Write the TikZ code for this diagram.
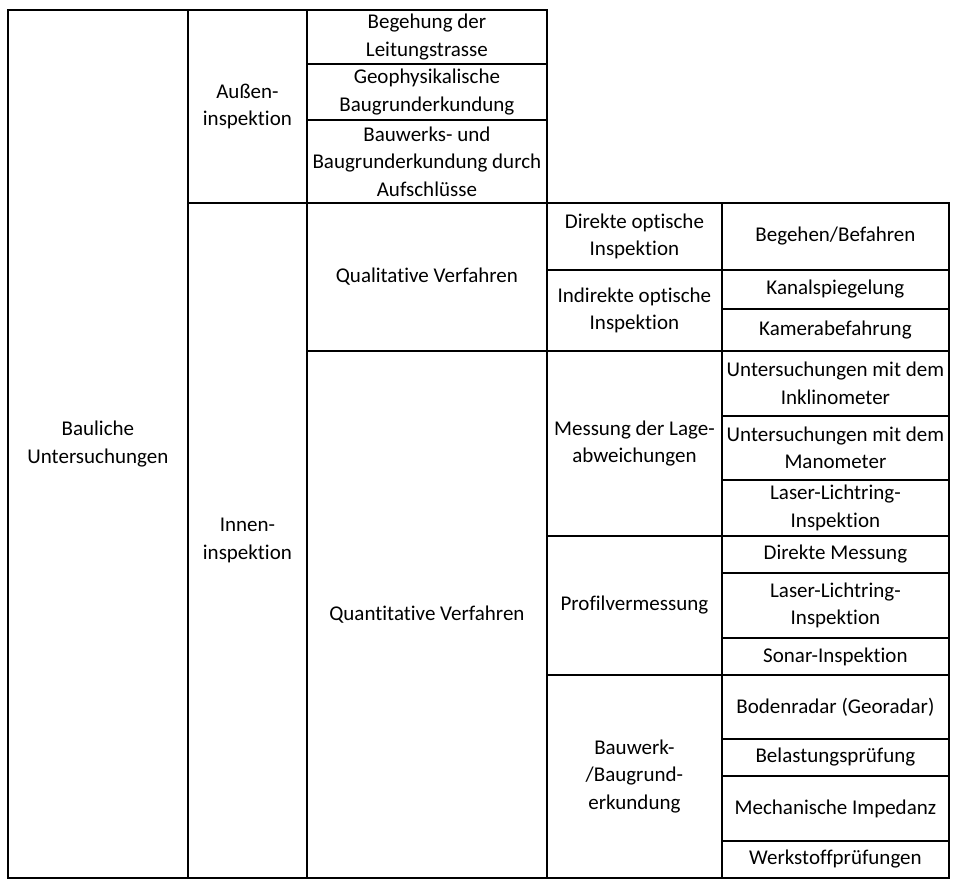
\documentclass[tikz,border=0pt]{standalone}
\usepackage{fontspec}
\setmainfont{Carlito}[Ligatures={NoCommon}]
\usepackage{tikz}
\usetikzlibrary{positioning}

\begin{document}
\begin{tikzpicture}[x=1pt, y=-1pt,
  cell/.style={draw, line width=1.8pt, inner sep=0pt, align=center, anchor=north west,
    font=\fontsize{21}{27.5}\selectfont}]
\useasboundingbox (0,0) rectangle (956,885);
% level 1 and 2
\node[cell, minimum width=180, minimum height=868] (bau) at (7,9) {Bauliche\\Untersuchungen};
\node[cell, minimum width=119, minimum height=193] (aussen) at (187,9) {Außen-\\inspektion};
\node[cell, minimum width=119, minimum height=675] (innen) at (187,202) {Innen-\\inspektion};
% Ausseninspektion
\node[cell, minimum width=240, minimum height=54] (begehung) at (306,9) {Begehung der\\Leitungstrasse};
\node[cell, minimum width=240, minimum height=56] (geophys) at (306,63) {Geophysikalische\\Baugrunderkundung};
\node[cell, minimum width=240, minimum height=83] (aufschl) at (306,119) {Bauwerks- und\\Baugrunderkundung durch\\Aufschlüsse};
% Inneninspektion
\node[cell, minimum width=240, minimum height=148] (qual) at (306,202) {Qualitative Verfahren};
\node[cell, minimum width=240, minimum height=527] (quant) at (306,350) {Quantitative Verfahren};
\node[cell, minimum width=175, minimum height=67] (direkt) at (546,202) {Direkte optische\\Inspektion};
\node[cell, minimum width=175, minimum height=81] (indirekt) at (546,269) {Indirekte optische\\Inspektion};
\node[cell, minimum width=175, minimum height=185] (lage) at (546,350) {Messung der Lage-\\abweichungen};
\node[cell, minimum width=175, minimum height=139] (profil) at (546,535) {Profilvermessung};
\node[cell, minimum width=175, minimum height=203] (erkund) at (546,674) {Bauwerk-\\/Baugrund-\\erkundung};
% Verfahren
\node[cell, minimum width=227, minimum height=67] (befahren) at (721,202) {Begehen/Befahren};
\node[cell, minimum width=227, minimum height=39] (spiegel) at (721,269) {Kanalspiegelung};
\node[cell, minimum width=227, minimum height=42] (kamera) at (721,308) {Kamerabefahrung};
\node[cell, minimum width=227, minimum height=65] (inklino) at (721,350) {Untersuchungen mit dem\\Inklinometer};
\node[cell, minimum width=227, minimum height=64] (mano) at (721,415) {Untersuchungen mit dem\\Manometer};
\node[cell, minimum width=227, minimum height=56] (laserA) at (721,479) {Laser-Lichtring-\\Inspektion};
\node[cell, minimum width=227, minimum height=37] (messung) at (721,535) {Direkte Messung};
\node[cell, minimum width=227, minimum height=65] (laserB) at (721,572) {Laser-Lichtring-\\Inspektion};
\node[cell, minimum width=227, minimum height=37] (sonar) at (721,637) {Sonar-Inspektion};
\node[cell, minimum width=227, minimum height=64] (radar) at (721,674) {Bodenradar (Georadar)};
\node[cell, minimum width=227, minimum height=37] (belast) at (721,738) {Belastungsprüfung};
\node[cell, minimum width=227, minimum height=65] (impedanz) at (721,775) {Mechanische Impedanz};
\node[cell, minimum width=227, minimum height=37] (werkstoff) at (721,840) {Werkstoffprüfungen};
\end{tikzpicture}
\end{document}
